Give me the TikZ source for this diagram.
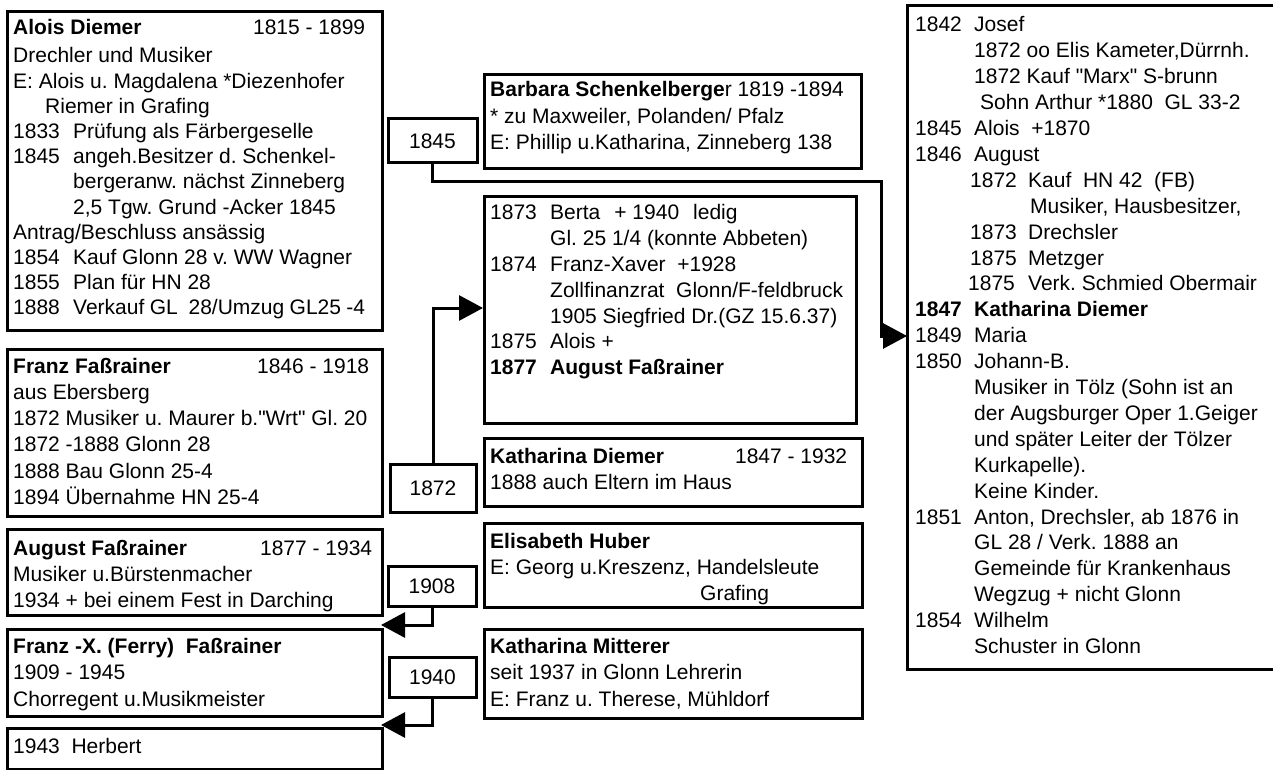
\documentclass[tikz,border=0pt]{standalone}
\usepackage{fontspec}
\setmainfont{Liberation Sans}[Ligatures=TeXOff]
\usetikzlibrary{arrows.meta}
\newcommand\yy[2][60pt]{\makebox[#1][l]{#2}}
\newcommand\ind[1]{\hspace*{#1pt}}
\frenchspacing
\begin{document}
\begin{tikzpicture}[x=1pt,y=-1pt,
  box/.style={draw,line width=3pt,inner sep=0pt,anchor=north west},
  txt/.style={anchor=base west,inner sep=0pt},
  yrbox/.style={draw,line width=3pt,inner sep=0pt,font=\fontsize{21}{25}\selectfont},
  conn/.style={line width=3pt,-{Triangle[length=24pt,width=25pt]}}]
\useasboundingbox (0,0) rectangle (1277,770);
% ---- boxes
\node[box,minimum width=375pt,minimum height=319pt] (b1) at (6,10) {};
\node[box,minimum width=375pt,minimum height=167pt] (b2) at (6,348) {};
\node[box,minimum width=375pt,minimum height=86pt] (b3) at (6,528) {};
\node[box,minimum width=375pt,minimum height=87pt] (b4) at (6,628) {};
\node[box,minimum width=375pt,minimum height=41pt] (b5) at (6,727) {};
\node[box,minimum width=377pt,minimum height=94pt] (barb) at (483,73) {};
\node[box,minimum width=372pt,minimum height=227pt] (kids) at (483,195) {};
\node[box,minimum width=378pt,minimum height=68pt] (kdiem) at (483,437) {};
\node[box,minimum width=378pt,minimum height=84pt] (huber) at (483,522) {};
\node[box,minimum width=378pt,minimum height=89pt] (mitt) at (483,628) {};
% right box: open on the right, runs to the edge of the picture
\node[inner sep=0pt,anchor=north west,minimum width=366pt,minimum height=663pt] (right) at (907,6) {};
\draw[line width=3pt] (right.north east) -- (right.north west) -- (right.south west) -- (right.south east);
% ---- year boxes
\node[yrbox,minimum width=89pt,minimum height=44pt] (y1845) at (432.5,141) {1845};
\node[yrbox,minimum width=86pt,minimum height=48pt] (y1872) at (433,488) {1872};
\node[yrbox,minimum width=88pt,minimum height=40pt] (y1908) at (432,586) {1908};
\node[yrbox,minimum width=87pt,minimum height=40pt] (y1940) at (432.5,677) {1940};
% ---- connector end points
\coordinate (c1) at (881,182);
\coordinate (c2) at (907,336);
\coordinate (c3) at (483,308);
\coordinate (c4) at (381,625);
\coordinate (c5) at (381,725);
\draw[conn] (y1845.south) |- (c1) |- (c2);
\draw[conn] (y1872.north) |- (c3);
\draw[conn] (y1908.south) |- (c4);
\draw[conn] (y1940.south) |- (c5);
% ---- texts
\node[txt] (t1) at (13,35) {\parbox[t]{352pt}{\fontsize{21}{25.2}\selectfont
\textbf{Alois Diemer}\hfill 1815 - 1899\\[2.8pt]
Drechler und Musiker\\
E: Alois u. Magdalena *Diezenhofer\\
\ind{32}Riemer in Grafing\\
\yy{1833}Prüfung als Färbergeselle\\
\yy{1845}angeh.Besitzer d. Schenkel-\\
\ind{60}bergeranw. nächst Zinneberg\\
\ind{60}2,5 Tgw. Grund -Acker 1845\\
Antrag/Beschluss ansässig\\
\yy{1854}Kauf Glonn 28 v. WW Wagner\\
\yy{1855}Plan für HN 28\\
\yy{1888}Verkauf GL\ \ 28/Umzug GL25 -4}};
\node[txt] (t2) at (13,373) {\parbox[t]{356pt}{\fontsize{21}{26.3}\selectfont
\textbf{Franz Faßrainer}\hfill 1846 - 1918\\
aus Ebersberg\\
1872 Musiker u. Maurer b."Wrt" Gl. 20\\
1872 -1888 Glonn 28\\
1888 Bau Glonn 25-4\\
1894 Übernahme HN 25-4}};
\node[txt] (t3) at (13,555) {\parbox[t]{359pt}{\fontsize{21}{26}\selectfont
\textbf{August Faßrainer}\hfill 1877 - 1934\\
Musiker u.Bürstenmacher\\
1934 + bei einem Fest in Darching}};
\node[txt] (t4) at (13,653) {\parbox[t]{360pt}{\fontsize{21}{26.5}\selectfont
\textbf{Franz -X. (Ferry)\ \ Faßrainer}\\
1909 - 1945\\
Chorregent u.Musikmeister}};
\node[txt] (t5) at (13,753) {\fontsize{21}{25}\selectfont 1943\ \ Herbert};
\node[txt] (t6) at (490,97) {\parbox[t]{365pt}{\fontsize{21}{26.5}\selectfont
\textbf{Barbara Schenkelberge}r 1819 -1894\\
{}* zu Maxweiler, Polanden/ Pfalz\\
E: Phillip u.Katharina, Zinneberg 138}};
\node[txt] (t7) at (490,220) {\parbox[t]{360pt}{\fontsize{21}{25.8}\selectfont
\yy{1873}Berta\hspace{14pt}+ 1940\hspace{14pt}ledig\\
\ind{60}Gl. 25 1/4 (konnte Abbeten)\\
\yy{1874}Franz-Xaver\ \ +1928\\
\ind{60}Zollfinanzrat\ \ Glonn/F-feldbruck\\
\ind{60}1905 Siegfried Dr.(GZ 15.6.37)\\
\yy{1875}Alois +\\
\textbf{\yy{1877}August Faßrainer}}};
\node[txt] (t8) at (490,463) {\parbox[t]{357pt}{\fontsize{21}{26}\selectfont
\textbf{Katharina Diemer}\hfill 1847 - 1932\\
1888 auch Eltern im Haus}};
\node[txt] (t9) at (490,548) {\parbox[t]{365pt}{\fontsize{21}{26.2}\selectfont
\textbf{Elisabeth Huber}\\
E: Georg u.Kreszenz, Handelsleute\\
\ind{210}Grafing}};
\node[txt] (t10) at (490,653) {\parbox[t]{365pt}{\fontsize{21}{26.5}\selectfont
\textbf{Katharina Mitterer}\\
seit 1937 in Glonn Lehrerin\\
E: Franz u. Therese, Mühldorf}};
\node[txt] (t11) at (915,32) {\parbox[t]{350pt}{\fontsize{21}{25.9}\selectfont
\yy[59pt]{1842}Josef\\
\ind{59}1872 oo Elis Kameter,Dürrnh.\\
\ind{59}1872 Kauf "Marx" S-brunn\\
\ind{65}Sohn Arthur *1880\ \ GL 33-2\\
\yy[59pt]{1845}Alois\ \ +1870\\
\yy[59pt]{1846}August\\
\ind{55}\yy[58pt]{1872}Kauf\ \ HN 42\ \ (FB)\\
\ind{115}Musiker, Hausbesitzer,\\
\ind{55}\yy[58pt]{1873}Drechsler\\
\ind{55}\yy[58pt]{1875}Metzger\\
\ind{53}\yy[60pt]{1875}Verk. Schmied Obermair\\
\textbf{\yy[59pt]{1847}Katharina Diemer}\\
\yy[59pt]{1849}Maria\\
\yy[59pt]{1850}Johann-B.\\
\ind{59}Musiker in Tölz (Sohn ist an\\
\ind{59}der Augsburger Oper 1.Geiger\\
\ind{59}und später Leiter der Tölzer\\
\ind{59}Kurkapelle).\\
\ind{59}Keine Kinder.\\
\yy[59pt]{1851}Anton, Drechsler, ab 1876 in\\
\ind{59}GL 28 / Verk. 1888 an\\
\ind{59}Gemeinde für Krankenhaus\\
\ind{59}Wegzug + nicht Glonn\\
\yy[59pt]{1854}Wilhelm\\
\ind{59}Schuster in Glonn}};
\end{tikzpicture}
\end{document}
